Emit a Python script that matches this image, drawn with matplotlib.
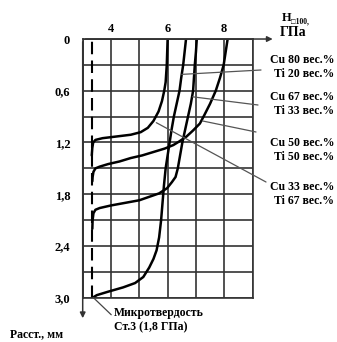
import matplotlib
matplotlib.use('Agg')
import matplotlib.pyplot as plt

# данные (читаются с рисунка)
x_ticks = [3, 4, 5, 6, 7, 8, 9]
x_labels = ['', '4', '', '6', '', '8', '']
y_ticks = [0.0, 0.3, 0.6, 0.9, 1.2, 1.5, 1.8, 2.1, 2.4, 2.7, 3.0]
y_labels = ['0', '', '0,6', '', '1,2', '', '1,8', '', '2,4', '', '3,0']

base_hv = 3.33  # микротвердость Ст.3

cu80_x = [6.65, 6.6, 6.55, 6.48, 6.42, 6.32, 6.22, 6.14, 6.07, 6.0, 5.93, 5.87, 5.82, 5.77,
          5.7, 5.61, 5.5, 5.35, 5.14, 4.85, 4.43, 3.9, 3.5, 3.35]
cu80_y = [0.0, 0.15, 0.3, 0.45, 0.6, 0.75, 0.9, 1.05, 1.2, 1.35, 1.5, 1.7, 1.9, 2.1,
          2.3, 2.45, 2.55, 2.65, 2.76, 2.83, 2.88, 2.93, 2.97, 3.0]

cu67_x = [7.03, 7.0, 6.96, 6.93, 6.9, 6.82, 6.72, 6.62, 6.52, 6.44, 6.36, 6.28, 6.15, 5.98,
          5.7, 5.35, 5.0, 4.5, 4.0, 3.6, 3.45, 3.38, 3.35, 3.34]
cu67_y = [0.0, 0.15, 0.3, 0.45, 0.6, 0.75, 0.9, 1.05, 1.2, 1.35, 1.5, 1.6, 1.66, 1.73,
          1.79, 1.83, 1.87, 1.9, 1.93, 1.96, 1.98, 2.02, 2.1, 2.2]

cu50_x = [8.12, 8.05, 7.98, 7.85, 7.7, 7.5, 7.3, 7.14, 6.9, 6.67, 6.4, 6.2, 5.9, 5.5,
          5.1, 4.7, 4.3, 3.9, 3.6, 3.45, 3.38, 3.35, 3.34]
cu50_y = [0.0, 0.15, 0.3, 0.45, 0.6, 0.75, 0.88, 0.98, 1.06, 1.13, 1.19, 1.23, 1.27, 1.31,
          1.35, 1.38, 1.42, 1.45, 1.48, 1.5, 1.54, 1.6, 1.65]

cu33_x = [6.0, 5.97, 5.93, 5.88, 5.8, 5.68, 5.5, 5.3, 5.05, 4.7, 4.2, 3.7, 3.45, 3.37, 3.34, 3.32]
cu33_y = [0.0, 0.3, 0.5, 0.6, 0.72, 0.84, 0.95, 1.03, 1.08, 1.11, 1.13, 1.15, 1.17, 1.2, 1.26, 1.35]

labels = ['Cu 80 вес.%\nTi 20 вес.%', 'Cu 67 вес.%\nTi 33 вес.%',
          'Cu 50 вес.%\nTi 50 вес.%', 'Cu 33 вес.%\nTi 67 вес.%']
label_pts = [(6.5, 0.41), (6.88, 0.67), (7.23, 0.95), (5.6, 0.97)]

plt.rcParams['font.family'] = ['Liberation Serif', 'DejaVu Serif']
plt.rcParams['font.weight'] = 'bold'

W, H = 337, 342
fig = plt.figure(figsize=(W / 100, H / 100), dpi=100)
ax = fig.add_axes([0.2454, 0.1295, 0.504, 0.7564])

ax.set_xlim(3, 9)
ax.set_ylim(3.0, 0)
ax.set_xticks(x_ticks)
ax.set_xticklabels(x_labels, fontsize=9, fontweight='bold')
ax.set_yticks(y_ticks)
ax.set_yticklabels(y_labels, fontsize=9, fontweight='bold')
ax.xaxis.tick_top()
ax.tick_params(length=0)
ax.tick_params(axis='x', pad=3)
ax.tick_params(axis='y', pad=9)
ax.grid(True, color='#333333', lw=1.2)
for s in ax.spines.values():
    s.set_color('#333333')
    s.set_linewidth(1.2)

ax.axvline(base_hv, color='black', lw=1.5, dashes=(6, 3))

for xs, ys in [(cu80_x, cu80_y), (cu67_x, cu67_y), (cu50_x, cu50_y), (cu33_x, cu33_y)]:
    ax.plot(xs, ys, color='black', lw=1.8, solid_capstyle='round')

# стрелки осей
ax.annotate('', xy=(1.135, 1), xytext=(0, 1), xycoords='axes fraction',
            arrowprops=dict(arrowstyle='-|>', color='#333333', lw=1.1, mutation_scale=8))
ax.annotate('', xy=(0, -0.09), xytext=(0, 1), xycoords='axes fraction',
            arrowprops=dict(arrowstyle='-|>', color='#333333', lw=1.1, mutation_scale=8))

fig.text(282 / W, 1 - 18 / H, 'H', fontsize=9, fontweight='bold', va='center')
fig.text(291 / W, 1 - 21 / H, '□100,', fontsize=5.5, fontweight='bold', va='center')
fig.text(280 / W, 1 - 32 / H, 'ГПа', fontsize=10, fontweight='bold', va='center')
fig.text(10 / W, 1 - 334 / H, 'Расст., мм', fontsize=8.5, fontweight='bold', va='center')

# подписи кривых
text_py = [67, 104, 150, 194]
leader_end = [(261, 70), (258, 105), (256, 132), (266, 182)]
for txt, pt, py, (ex, ey) in zip(labels, label_pts, text_py, leader_end):
    fig.text(334 / W, 1 - py / H, txt, fontsize=8.5, fontweight='bold',
             ha='right', va='center', linespacing=1.2)
    ax.annotate('', xy=pt, xytext=(ex, H - ey), textcoords='figure pixels',
                arrowprops=dict(arrowstyle='-', color='#555555', lw=0.9,
                                shrinkA=0, shrinkB=0), annotation_clip=False)

ax.annotate('Микротвердость\nСт.3 (1,8 ГПа)', xy=(3.38, 3.0), xytext=(114, H - 320),
            textcoords='figure pixels', fontsize=8.5, fontweight='bold',
            va='center', ha='left', linespacing=1.2,
            arrowprops=dict(arrowstyle='-', color='#444444', lw=0.9,
                            relpos=(0, 0.6), shrinkA=0, shrinkB=0),
            annotation_clip=False)

fig.savefig('out.png', dpi=100)
